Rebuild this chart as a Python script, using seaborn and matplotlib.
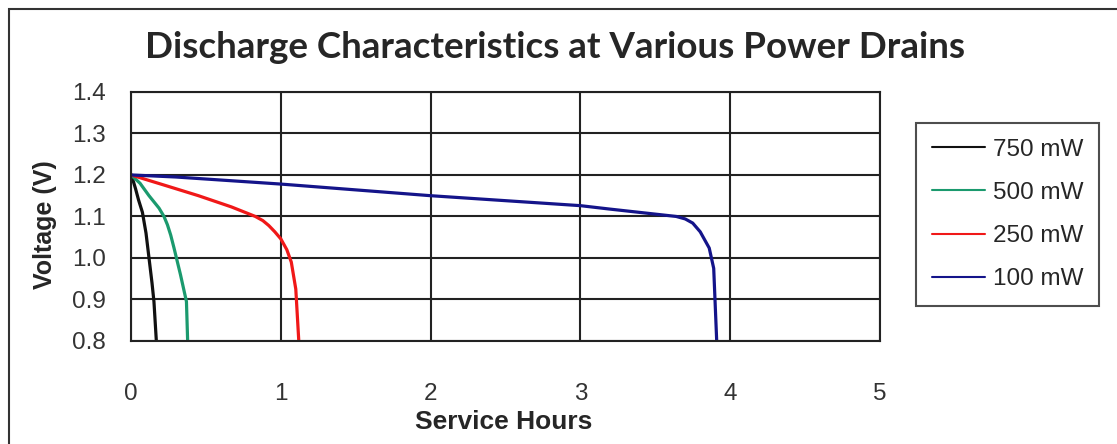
import pandas as pd
import seaborn as sns
import matplotlib.pyplot as plt
from matplotlib.patches import Rectangle

# curves (service hours, volts)
hours_750 = [0, 0.015, 0.03, 0.05, 0.076, 0.10, 0.12, 0.14, 0.153, 0.169]
volts_750 = [1.2, 1.185, 1.167, 1.14, 1.11, 1.06, 1.0, 0.94, 0.895, 0.8]

hours_500 = [0, 0.06, 0.12, 0.187, 0.22, 0.243, 0.265, 0.287, 0.33, 0.37, 0.378]
volts_500 = [1.2, 1.18, 1.15, 1.12, 1.10, 1.08, 1.055, 1.024, 0.96, 0.895, 0.8]

hours_250 = [0, 0.235, 0.45, 0.67, 0.83, 0.88, 0.92, 0.96, 1.0, 1.04, 1.07, 1.10, 1.12]
volts_250 = [1.2, 1.174, 1.15, 1.123, 1.1, 1.09, 1.078, 1.063, 1.046, 1.02, 0.99, 0.925, 0.8]

hours_100 = [0, 0.3, 1.0, 2.0, 3.0, 3.19, 3.64, 3.70, 3.75, 3.80, 3.86, 3.89, 3.91]
volts_100 = [1.2, 1.195, 1.178, 1.15, 1.126, 1.118, 1.10, 1.094, 1.084, 1.063, 1.024, 0.975, 0.8]

labels = ['750 mW', '500 mW', '250 mW', '100 mW']
colors = ['#111111', '#1b9a6e', '#f01818', '#14148a']

frames = []
for lab, h, v in zip(labels,
                     [hours_750, hours_500, hours_250, hours_100],
                     [volts_750, volts_500, volts_250, volts_100]):
    frames.append(pd.DataFrame({'hours': h, 'volts': v, 'drain': lab}))
df = pd.concat(frames, ignore_index=True)

sns.set_style('white')
plt.rcParams['font.family'] = ['Liberation Sans', 'DejaVu Sans']

fig = plt.figure(figsize=(11.17, 4.44), dpi=100)
ax = fig.add_axes([0.1173, 0.232, 0.6705, 0.561])

sns.lineplot(data=df, x='hours', y='volts', hue='drain', hue_order=labels,
             palette=colors, sort=False, estimator=None, linewidth=2.3,
             ax=ax, legend=True)

ax.set_xlim(0, 5)
ax.set_ylim(0.8, 1.4)
ax.set_xticks([0, 1, 2, 3, 4, 5])
ax.set_yticks([0.8, 0.9, 1.0, 1.1, 1.2, 1.3, 1.4])
ax.set_yticklabels(['0.8', '0.9', '1.0', '1.1', '1.2', '1.3', '1.4'])
ax.grid(True, color='#222222', linewidth=1.5)
ax.set_axisbelow(True)
for s in ax.spines.values():
    s.set_color('#222222')
    s.set_linewidth(1.5)
ax.tick_params(axis='both', direction='out', length=8, width=1.5,
               color='#222222', labelsize=17.5, labelcolor='#333333')
ax.tick_params(axis='x', pad=22)
ax.tick_params(axis='y', pad=10)
ax.set_xlabel('')
ax.set_ylabel('')

handles, labs = ax.get_legend_handles_labels()
ax.get_legend().remove()
leg = fig.legend(handles, labs, loc='upper left',
                 bbox_to_anchor=(0.820, 0.723), frameon=True, fancybox=False,
                 fontsize=17.5, labelspacing=0.87, handlelength=2.2,
                 handletextpad=0.3, borderpad=0.65, borderaxespad=0)
leg.get_frame().set_edgecolor('#222222')
leg.get_frame().set_linewidth(1.5)
for line in leg.get_lines():
    line.set_linewidth(1.5)

fig.text(0.497, 0.894, 'Discharge Characteristics at Various Power Drains',
         ha='center', va='center', fontsize=26.5, fontweight='bold',
         family=['Lato', 'DejaVu Sans'])
fig.text(0.451, 0.05, 'Service Hours', ha='center', va='center',
         fontsize=19, fontweight='bold')
fig.text(0.040, 0.493, 'Voltage (V)', ha='center', va='center',
         rotation=90, fontsize=18, fontweight='bold')

fig.patches.append(Rectangle((9 / 1117, -0.1), 1.2, 1 - 9 / 444 + 0.1,
                             transform=fig.transFigure, fill=False,
                             edgecolor='#333333', linewidth=1.5))

fig.savefig('out.png', dpi=100)
